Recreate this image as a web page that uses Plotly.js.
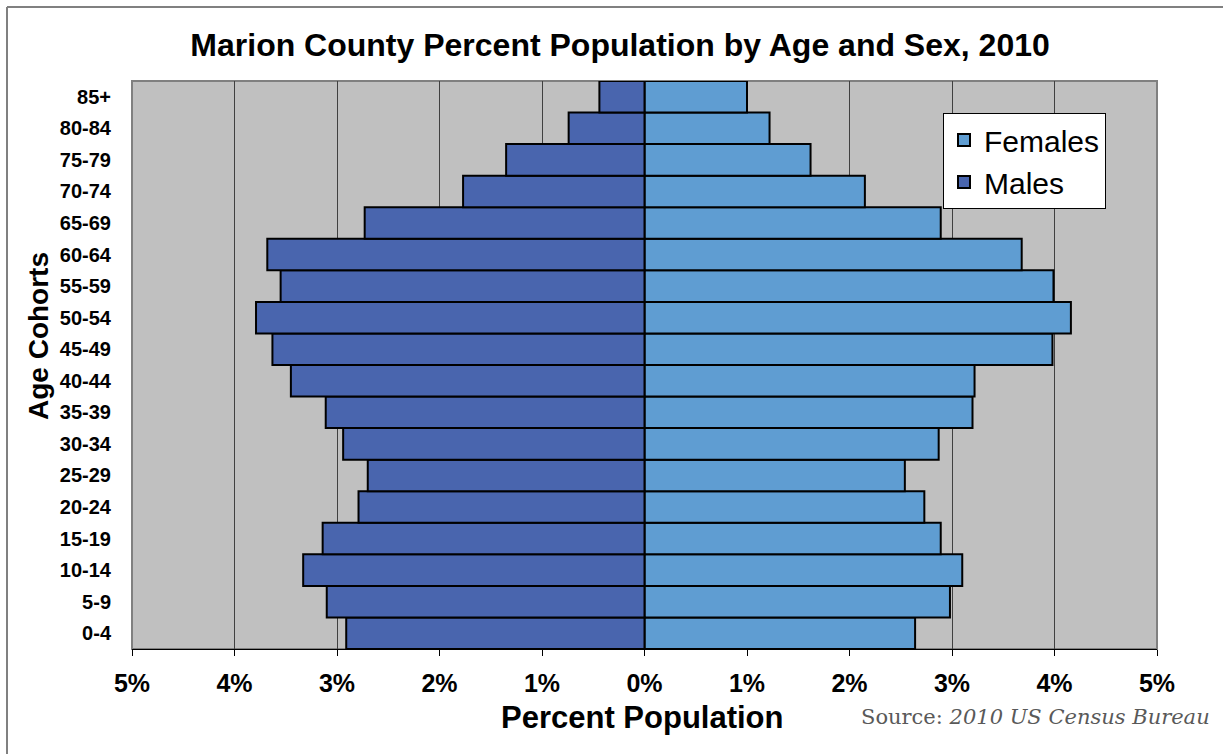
<!DOCTYPE html>
<html>
<head>
<meta charset="utf-8">
<script src="https://cdn.plot.ly/plotly-3.0.1.min.js"></script>
<style>
  html, body { margin: 0; padding: 0; background: #ffffff; }
  #chart { width: 1223px; height: 754px; }
</style>
</head>
<body>
<div id="chart"></div>
<script>
// Age cohorts, youngest first (drawn bottom to top)
const ageCohorts = ['0-4', '5-9', '10-14', '15-19', '20-24', '25-29', '30-34', '35-39',
  '40-44', '45-49', '50-54', '55-59', '60-64', '65-69', '70-74', '75-79', '80-84', '85+'];

// Percent of total county population in each cohort
const malesPct = [2.91, 3.10, 3.33, 3.14, 2.79, 2.70, 2.94, 3.11,
  3.45, 3.63, 3.79, 3.55, 3.68, 2.73, 1.77, 1.35, 0.74, 0.44];
const femalesPct = [2.64, 2.98, 3.10, 2.89, 2.73, 2.54, 2.87, 3.20,
  3.22, 3.98, 4.16, 3.99, 3.68, 2.89, 2.15, 1.62, 1.22, 1.00];

// Symmetric percent axis: males plotted to the left of zero
const tickValues = [-5, -4, -3, -2, -1, 0, 1, 2, 3, 4, 5];
const tickLabels = ['5%', '4%', '3%', '2%', '1%', '0%', '1%', '2%', '3%', '4%', '5%'];

const barLine = { color: '#000000', width: 2 };
const SANS = 'Liberation Sans, Arial, sans-serif';

const females = {
  type: 'bar',
  orientation: 'h',
  name: 'Females',
  y: ageCohorts,
  x: femalesPct,
  marker: { color: '#5F9DD2', line: barLine },
  hoverinfo: 'skip'
};

const males = {
  type: 'bar',
  orientation: 'h',
  name: 'Males',
  y: ageCohorts,
  x: malesPct.map(v => -v),
  marker: { color: '#4965AE', line: barLine },
  hoverinfo: 'skip'
};

const L = 132, R = 1157, T = 81, B = 649;
const W = 1223, H = 754;
const px = v => (v - L) / (R - L);
const py = v => (B - v) / (B - T);

const layout = {
  width: W,
  height: H,
  margin: { l: L, r: W - R, t: T, b: H - B, pad: 0 },
  paper_bgcolor: '#ffffff',
  plot_bgcolor: '#C0C0C0',
  barmode: 'relative',
  bargap: 0,
  showlegend: true,
  hovermode: false,
  font: { family: SANS, color: '#000000' },
  title: {
    text: '<b>Marion County Percent Population by Age and Sex, 2010</b>',
    font: { size: 32, family: SANS, color: '#000000' },
    x: 0.507,
    xanchor: 'center',
    y: 1 - 45 / H,
    yanchor: 'middle'
  },
  xaxis: {
    range: [-5, 5],
    tickvals: tickValues,
    ticktext: tickLabels,
    tickfont: { size: 25, family: SANS, color: '#000000', weight: 'bold' },
    ticks: 'outside',
    ticklen: 6,
    tickcolor: '#000000',
    tickwidth: 1,
    ticklabelstandoff: 6,
    showgrid: true,
    gridcolor: '#404040',
    gridwidth: 1,
    zeroline: false,
    showline: true,
    linecolor: '#000000',
    linewidth: 1,
    fixedrange: true,
    title: { text: '' }
  },
  yaxis: {
    type: 'category',
    categoryorder: 'array',
    categoryarray: ageCohorts,
    tickfont: { size: 20, family: SANS, color: '#000000', weight: 'bold' },
    ticks: '',
    ticklabelstandoff: 20,
    showgrid: false,
    zeroline: false,
    showline: false,
    fixedrange: true,
    title: { text: '' }
  },
  legend: {
    x: px(943),
    y: py(113),
    xanchor: 'left',
    yanchor: 'top',
    bgcolor: '#ffffff',
    bordercolor: '#000000',
    borderwidth: 1,
    traceorder: 'normal',
    itemwidth: 30,
    font: { size: 30, family: SANS, color: '#000000' }
  },
  shapes: [
    // plot-area frame
    {
      type: 'rect', xref: 'paper', yref: 'paper', layer: 'below',
      x0: 0, x1: 1, y0: 0, y1: 1,
      line: { color: '#808080', width: 2 }, fillcolor: 'rgba(0,0,0,0)'
    },
    // outer chart frame (left and top edges)
    {
      type: 'line', xref: 'paper', yref: 'paper',
      x0: px(7), x1: px(7), y0: py(7), y1: py(770),
      line: { color: '#808080', width: 2 }
    },
    {
      type: 'line', xref: 'paper', yref: 'paper',
      x0: px(7), x1: px(1240), y0: py(7), y1: py(7),
      line: { color: '#808080', width: 2 }
    }
  ],
  annotations: [
    // x-axis title
    {
      xref: 'paper', yref: 'paper',
      x: px(642), y: py(717),
      xanchor: 'center', yanchor: 'middle',
      showarrow: false,
      text: '<b>Percent Population</b>',
      font: { size: 31, family: SANS, color: '#000000' }
    },
    // y-axis title
    {
      xref: 'paper', yref: 'paper',
      x: px(38), y: py(336),
      xanchor: 'center', yanchor: 'middle',
      textangle: -90,
      showarrow: false,
      text: '<b>Age Cohorts</b>',
      font: { size: 28, family: SANS, color: '#000000' }
    },
    // data source note
    {
      xref: 'paper', yref: 'paper',
      x: px(1212), y: py(717),
      xanchor: 'right', yanchor: 'middle',
      showarrow: false,
      text: 'Source: <i>2010 US Census Bureau</i>',
      font: { size: 21, family: 'DejaVu Serif, Liberation Serif, serif', color: '#595959' }
    }
  ]
};

Plotly.newPlot('chart', [females, males], layout, { displayModeBar: false, staticPlot: true });
</script>
</body>
</html>
